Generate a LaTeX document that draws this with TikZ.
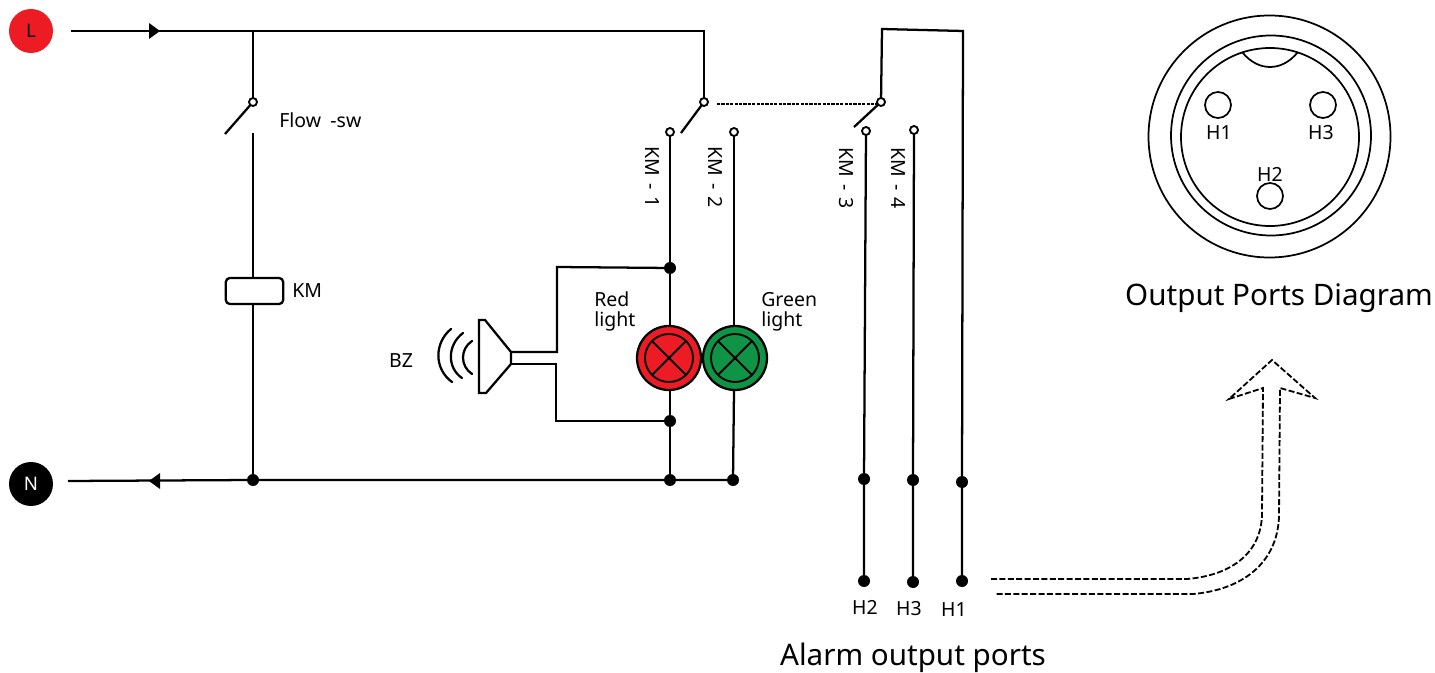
\documentclass[tikz,border=0pt]{standalone}
\usepackage{fontspec}
\setmainfont{Noto Sans}
\usetikzlibrary{calc}
\definecolor{lampred}{HTML}{ED1C24}
\definecolor{lampgreen}{HTML}{0F9345}
\tikzset{
  wire/.style={line width=1.7pt,black,line join=miter},
  thinl/.style={line width=1.4pt,black},
  contact/.style={circle,draw,line width=1.4pt,fill=white,minimum size=6pt,inner sep=0pt,outer sep=0pt},
  dotn/.style={circle,fill=black,minimum size=9pt,inner sep=0pt,outer sep=0pt},
  terminal/.style={circle,minimum size=33pt,inner sep=0pt,outer sep=0pt,font=\fontsize{14}{14}\selectfont},
  lamp/.style={circle,draw,line width=1.7pt,minimum size=48pt,inner sep=0pt,outer sep=0pt},
  lampring/.style={circle,draw,line width=1.4pt,minimum size=36pt,inner sep=0pt,outer sep=0pt},
  coil/.style={rectangle,rounded corners=3pt,draw,line width=1.7pt,minimum width=43pt,minimum height=19.5pt,inner sep=0pt,outer sep=0pt},
  lbl/.style={font=\fontsize{14.6}{15}\selectfont,inner sep=0pt,text=black},
  lbltwo/.style={font=\fontsize{14.6}{15}\selectfont,inner sep=0pt,align=left,anchor=west},
  bigtext/.style={font=\fontsize{22.2}{24}\selectfont,inner sep=0pt},
  ring/.style={circle,draw,line width=1.3pt,inner sep=0pt,outer sep=0pt},
  keyarc/.style={line width=1.3pt},
  dashwire/.style={line width=1.35pt,dash pattern=on 4.5pt off 1.8pt},
  tri/.style={fill=black},
}
\begin{document}
\begin{tikzpicture}[x=0.75pt,y=-0.75pt]
\useasboundingbox (0,0) rectangle (1435,673);
% terminals
\node[terminal,fill=lampred] (L) at (31,31) {L};
\node[terminal,fill=black,text=white] (N) at (31,484) {N};
% named points
\coordinate (Ls) at (71,31);
\coordinate (Ns) at (68,481);
\coordinate (topa) at (253,31);
\coordinate (topb) at (704,31);
\coordinate (ra) at (882,29);
\coordinate (rb) at (963,31);
% contacts
\node[contact] (fs) at (253,102) {};
\coordinate (fsb) at (225,134);
\coordinate (fsc) at (253,133);
\node[coil] (km) at (254.5,291) {};
\node[contact] (sw1) at (704,102) {};
\coordinate (sw1b) at (681,133);
\node[contact] (c1) at (670,132) {};
\node[contact] (c2) at (734,132) {};
\node[contact] (sw2) at (881,102) {};
\coordinate (sw2b) at (854,127);
\node[contact] (c3) at (866,131) {};
\node[contact] (c4) at (914,130) {};
% dots
\node[dotn] (d1) at (253,480) {};
\node[dotn] (d2) at (670,480) {};
\node[dotn] (d3) at (733,480) {};
\node[dotn] (d4) at (670,268) {};
\node[dotn] (d5) at (670,421) {};
\node[dotn] (h2a) at (864,479) {};
\node[dotn] (h3a) at (913,480) {};
\node[dotn] (h1a) at (962,482) {};
\node[dotn] (h2b) at (864,581) {};
\node[dotn] (h3b) at (913,582) {};
\node[dotn] (h1b) at (962,581) {};
% lamps
\node[lamp,fill=lampred] (red) at (669,358) {};
\node[lampring] (redr) at (669,358) {};
\node[lamp,fill=lampgreen] (green) at (735,358) {};
\node[lampring] (greenr) at (735,358) {};
\draw[thinl] (redr.45) -- (redr.225) (redr.135) -- (redr.315);
\draw[thinl] (greenr.45) -- (greenr.225) (greenr.135) -- (greenr.315);
% wires
\draw[wire] (Ls) -- (topb) -- (sw1);
\draw[wire] (topa) -- (fs);
\draw[wire] (fs) -- (fsb);
\draw[wire] (fsc) -- (fsc |- km.north);
\draw[wire] (d1 |- km.south) -- (d1);
\draw[wire] (Ns) -- (d1) -- (d2) -- (d3);
\draw[wire] (sw1) -- (sw1b);
\draw[wire] (c1) -- (d4) -- (d4 |- red.north);
\draw[wire] (d5 |- red.south) -- (d5) -- (d2);
\draw[wire] (c2) -- (c2 |- green.north);
\draw[wire] (c2 |- green.south) -- (d3);
\draw[wire] (sw2) -- (ra) -- (rb) -- (h1a) -- (h1b);
\draw[wire] (sw2) -- (sw2b);
\draw[wire] (c3) -- (h2a) -- (h2b);
\draw[wire] (c4) -- (h3a) -- (h3b);
\coordinate (dla) at (717,104);
\coordinate (dlb) at (877,104);
\draw[line width=1.2pt,dash pattern=on 2.4pt off 0.9pt] (dla) -- (dlb);
% arrowheads
\fill[tri] (149,23) -- (160,31) -- (149,39) -- cycle;
\fill[tri] (160,473) -- (149,481) -- (160,489) -- cycle;
% buzzer
\coordinate (bzt) at (511,352);
\coordinate (bzb) at (511,364);
\draw[wire] (d4) -- (557,267) -- (557,352) -- (bzt);
\draw[wire] (d5) -- (556,421) -- (556,364) -- (bzb);
\draw[wire,fill=white] (479,320) -- (485,320) -- (bzt) -- (bzb) -- (486,393) -- (479,393) -- cycle;
\draw[wire,line cap=round] (472,341) .. controls (460,349) and (460,366) .. (472,374);
\draw[wire,line cap=round] (463,333) .. controls (447,345) and (447,368) .. (462,378);
\draw[wire,line cap=round] (451,329) .. controls (434,343) and (434,369) .. (452,382);
% connector face
\node[ring,minimum size=181.5pt] (o1) at (1269.5,136.5) {};
\node[ring,minimum size=150pt] (o2) at (1271,135.5) {};
\node[ring,minimum size=133.5pt] (o3) at (1270,137) {};
\coordinate (ka) at (1242,52);
\coordinate (kb) at (1298,52);
\draw[keyarc] (ka) .. controls (1251,63) and (1261,67) .. (1270,67) .. controls (1279,67) and (1289,63) .. (kb);
\node[ring,minimum size=19.5pt] (p1) at (1218,105) {};
\node[ring,minimum size=19.5pt] (p3) at (1323,105) {};
\node[ring,minimum size=19.5pt] (p2) at (1270,196) {};
% big arrow
\coordinate (ar1) at (991,579);
\coordinate (ar2) at (995,594);
\draw[dashwire,line join=miter] (ar1) -- (1187,579) .. controls (1235,575) and (1262,550) .. (1262,513)
  -- (1263,388) -- (1229,399) -- (1272,360) -- (1315,398) -- (1280,388) -- (1279,517)
  .. controls (1277,565) and (1240,590) .. (1193,594) -- (ar2);
% labels
\node[lbl,anchor=west] (tfs) at (279,120) {Flow\hspace{0.22em} -sw};
\node[lbl,anchor=west] (tkm) at (292,291) {KM};
\node[lbl] (tbz) at (401,361) {BZ};
\node[lbltwo] (tred) at (594,311.5) {Red\\light};
\node[lbltwo] (tgr) at (761,312) {Green\\light};
\node[lbl,rotate=-90] (k1) at (652,177) {KM\hspace{0.1em} -\hspace{0.1em} 1};
\node[lbl,rotate=-90] (k2) at (716,177.5) {KM\hspace{0.1em} -\hspace{0.1em} 2};
\node[lbl,rotate=-90] (k3) at (846,178) {KM\hspace{0.1em} -\hspace{0.1em} 3};
\node[lbl,rotate=-90] (k4) at (898,178) {KM\hspace{0.1em} -\hspace{0.1em} 4};
\node[lbl] (t2) at (865,607) {H2};
\node[lbl] (t3) at (909,609) {H3};
\node[lbl] (t1) at (954,610) {H1};
\node[lbl] (q1) at (1219,133) {H1};
\node[lbl] (q3) at (1321,133) {H3};
\node[lbl] (q2) at (1270,174) {H2};
\node[bigtext] (alarm) at (913,658) {Alarm output ports};
\node[bigtext] (ports) at (1279,298) {Output Ports Diagram};
\end{tikzpicture}
\end{document}
